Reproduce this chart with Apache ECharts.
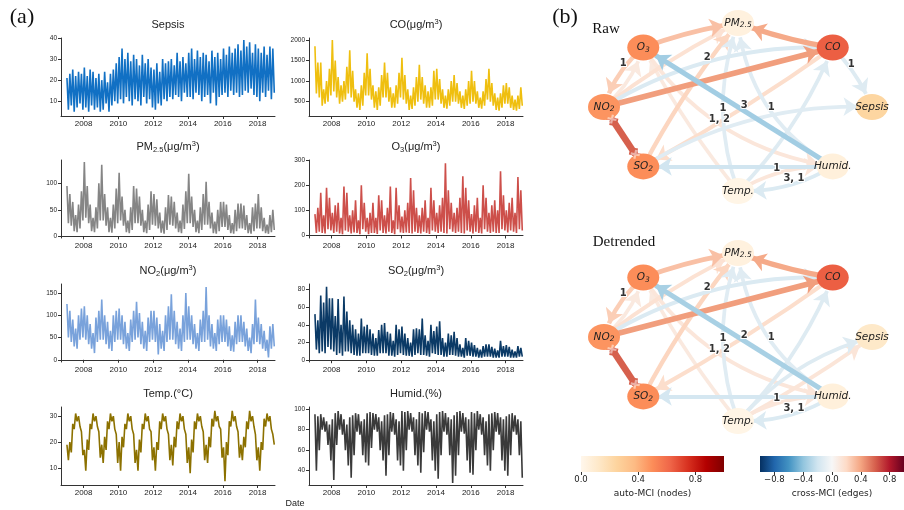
<!DOCTYPE html>
<html lang="en">
<head>
    <meta charset="UTF-8">
    <title>Sepsis and air quality</title>
    <script src="https://cdn.jsdelivr.net/npm/echarts@6/dist/echarts.min.js"></script>
</head>
<body style="margin: 0; background: #fff;">
<div id="container" style="width: 904px; height: 510px;"></div>
<script type="text/javascript">

    // monthly readings from Jan 2007, the month's high and low taken in turn
    const startYear = 2007;
    const perYear = 12;
    const yearTicks = [2008, 2010, 2012, 2014, 2016, 2018];

    const sepsis = [
        21, 6, 23, 8, 25, 5, 22, 7, 24, 9, 23, 6,
        26, 7, 22, 5, 25, 8, 24, 6, 21, 7, 23, 5,
        20, 6, 24, 9, 19, 5, 23, 8, 25, 10, 28, 9,
        31, 11, 35, 9, 30, 12, 33, 10, 29, 8, 32, 11,
        30, 10, 27, 8, 32, 12, 28, 9, 30, 11, 26, 7,
        25, 6, 28, 9, 24, 8, 30, 11, 28, 10, 29, 12,
        30, 11, 27, 13, 33, 12, 29, 10, 31, 14, 28, 12,
        33, 12, 35, 11, 30, 14, 34, 13, 31, 10, 33, 12,
        32, 13, 29, 9, 34, 14, 31, 8, 33, 12, 30, 13,
        35, 14, 32, 12, 36, 15, 33, 13, 35, 14, 37, 12,
        34, 13, 39, 15, 36, 14, 38, 16, 33, 13, 37, 12,
        35, 10, 33, 14, 36, 12, 32, 15, 36, 11, 35, 14
    ];
    const co = [
        1850, 700, 1450, 600, 1450, 400, 800, 450, 1000, 500, 1300, 650,
        2000, 750, 1500, 600, 1100, 450, 900, 500, 1000, 550, 1350, 700,
        1750, 600, 1250, 500, 800, 350, 700, 300, 900, 400, 1200, 650,
        1680, 650, 1300, 550, 900, 350, 750, 300, 850, 400, 1150, 600,
        1450, 600, 1200, 500, 850, 350, 700, 350, 900, 450, 1200, 600,
        1570, 550, 1150, 450, 800, 300, 650, 320, 850, 400, 1100, 500,
        1400, 550, 1100, 450, 900, 350, 750, 350, 850, 400, 1250, 550,
        1300, 550, 1050, 450, 800, 350, 650, 330, 800, 400, 1000, 500,
        1150, 500, 950, 450, 750, 350, 650, 320, 800, 400, 1000, 450,
        1250, 500, 1000, 450, 750, 350, 600, 330, 750, 400, 1050, 550,
        1300, 500, 950, 400, 700, 300, 600, 280, 700, 350, 900, 450,
        950, 450, 850, 350, 650, 300, 550, 280, 650, 320, 850, 400
    ];
    const pm25 = [
        95, 25, 80, 20, 65, 10, 40, 8, 60, 15, 85, 30,
        140, 35, 95, 25, 60, 10, 35, 8, 55, 15, 100, 30,
        135, 30, 80, 20, 55, 8, 35, 7, 60, 15, 90, 25,
        120, 30, 75, 20, 50, 8, 30, 6, 55, 12, 95, 25,
        90, 25, 75, 20, 50, 8, 30, 6, 60, 12, 85, 22,
        80, 20, 70, 15, 45, 7, 30, 5, 55, 12, 78, 22,
        75, 20, 65, 15, 45, 8, 30, 6, 60, 14, 85, 25,
        118, 25, 75, 18, 50, 8, 30, 6, 55, 12, 80, 22,
        103, 22, 65, 15, 45, 6, 28, 5, 50, 10, 65, 18,
        65, 18, 60, 12, 40, 6, 25, 5, 50, 10, 62, 15,
        62, 15, 58, 12, 40, 6, 25, 5, 55, 10, 62, 15,
        80, 15, 55, 10, 35, 6, 22, 5, 40, 8, 50, 12
    ];
    const o3 = [
        85, 10, 110, 15, 170, 10, 80, 8, 190, 25, 150, 20,
        90, 10, 120, 15, 130, 8, 70, 5, 195, 20, 170, 15,
        80, 8, 100, 12, 140, 10, 60, 5, 200, 25, 130, 15,
        70, 5, 90, 10, 130, 10, 70, 6, 160, 20, 140, 10,
        80, 8, 110, 15, 195, 10, 60, 5, 190, 25, 120, 12,
        75, 10, 100, 12, 130, 10, 228, 8, 180, 15, 110, 10,
        80, 8, 110, 15, 140, 10, 70, 6, 190, 20, 140, 15,
        90, 10, 120, 15, 150, 10, 287, 8, 180, 25, 130, 15,
        90, 10, 110, 15, 150, 10, 235, 8, 190, 20, 140, 15,
        85, 8, 120, 15, 150, 10, 70, 8, 200, 25, 150, 15,
        90, 10, 120, 15, 140, 10, 100, 10, 255, 25, 160, 20,
        100, 12, 130, 20, 150, 15, 90, 10, 232, 25, 180, 20
    ];
    const no2 = [
        125, 50, 110, 40, 90, 30, 70, 25, 100, 45, 115, 50,
        120, 45, 100, 35, 80, 25, 60, 15, 95, 40, 110, 45,
        135, 45, 100, 35, 85, 25, 65, 20, 100, 40, 110, 45,
        115, 45, 100, 35, 85, 25, 60, 20, 90, 40, 110, 45,
        130, 50, 105, 35, 85, 25, 65, 20, 95, 40, 110, 45,
        110, 40, 95, 12, 80, 25, 65, 20, 100, 40, 120, 45,
        147, 45, 110, 35, 85, 25, 70, 20, 100, 40, 150, 45,
        120, 45, 100, 35, 80, 25, 60, 20, 90, 40, 110, 40,
        163, 45, 100, 30, 80, 25, 60, 20, 90, 35, 100, 40,
        100, 40, 90, 30, 75, 20, 55, 18, 85, 35, 100, 40,
        100, 40, 85, 30, 70, 20, 50, 15, 80, 35, 135, 40,
        95, 35, 80, 25, 65, 20, 45, 5, 75, 25, 80, 30
    ];
    const so2 = [
        52, 12, 45, 8, 73, 10, 65, 8, 83, 15, 70, 12,
        70, 10, 50, 6, 69, 8, 40, 5, 72, 10, 55, 10,
        45, 8, 40, 6, 35, 5, 30, 5, 47, 8, 38, 8,
        40, 8, 35, 6, 30, 5, 25, 5, 34, 8, 40, 8,
        42, 8, 32, 5, 30, 5, 22, 4, 40, 6, 35, 8,
        38, 6, 30, 5, 25, 5, 20, 4, 35, 6, 36, 8,
        35, 6, 47, 6, 28, 5, 22, 4, 40, 8, 33, 7,
        38, 6, 44, 6, 25, 4, 20, 4, 30, 6, 28, 6,
        32, 5, 25, 4, 18, 4, 14, 3, 25, 5, 22, 5,
        20, 4, 17, 4, 14, 3, 12, 3, 16, 4, 18, 4,
        18, 4, 15, 3, 13, 3, 11, 3, 22, 4, 16, 4,
        17, 4, 15, 3, 12, 3, 10, 3, 16, 4, 14, 4
    ];
    const temp = [
        19, 13, 20, 16, 27, 25, 31, 28, 30, 26, 24, 15,
        17, 9, 21, 17, 27, 25, 31, 28, 30, 26, 24, 14,
        19, 12, 22, 17, 28, 25, 31, 28, 30, 25, 23, 12,
        20, 9, 22, 18, 27, 25, 31, 28, 30, 25, 23, 12,
        17, 9, 21, 16, 27, 25, 31, 28, 30, 25, 24, 13,
        18, 9, 20, 17, 28, 25, 31, 28, 30, 25, 23, 13,
        19, 11, 22, 18, 28, 25, 31, 28, 30, 25, 23, 12,
        18, 8, 21, 16, 28, 25, 31, 28, 30, 26, 24, 13,
        19, 12, 22, 18, 29, 26, 32, 28, 30, 26, 25, 14,
        18, 5, 20, 15, 28, 26, 32, 28, 30, 26, 24, 14,
        19, 13, 22, 18, 28, 25, 32, 28, 30, 26, 23, 13,
        18, 9, 20, 17, 29, 26, 31, 28, 30, 25, 23, 19
    ];
    const humid = [
        95, 40, 93, 60, 95, 80, 92, 78, 88, 65, 85, 50,
        90, 31, 96, 65, 98, 80, 95, 75, 90, 60, 85, 45,
        92, 33, 94, 55, 96, 78, 95, 75, 88, 55, 90, 48,
        96, 45, 97, 62, 96, 80, 95, 78, 92, 60, 88, 50,
        94, 35, 95, 55, 97, 78, 96, 75, 90, 50, 88, 45,
        98, 40, 97, 60, 98, 80, 96, 78, 92, 55, 90, 45,
        97, 38, 96, 58, 98, 80, 97, 78, 90, 50, 88, 40,
        95, 32, 97, 55, 98, 78, 96, 75, 92, 55, 90, 28,
        94, 35, 97, 55, 98, 78, 96, 76, 92, 50, 90, 38,
        97, 36, 96, 60, 98, 80, 95, 75, 92, 55, 88, 45,
        95, 40, 96, 60, 97, 78, 96, 75, 92, 50, 90, 40,
        93, 35, 95, 55, 96, 78, 94, 75, 90, 55, 88, 33
    ];

    // causal graphs: nodes in circle order, clockwise from the top
    const nodeNames = ['PM2.5', 'CO', 'Sepsis', 'Humid.', 'Temp.', 'SO2', 'NO2', 'O3'];
    const nodeLabels = ['PM{s|2.5}', 'CO', 'Sepsis', 'Humid.', 'Temp.', 'SO{s|2}', 'NO{s|2}', 'O{s|3}'];
    const autoRaw = [0.05, 0.64, 0.24, 0.06, 0.02, 0.5, 0.48, 0.5];
    const autoDetrended = [0.05, 0.64, 0.12, 0.06, 0.02, 0.5, 0.48, 0.5];

    // [source, target, cross-MCI, lags]; lag '0' is a contemporaneous link
    const linksRaw = [
        ['NO2', 'O3', 0.10, ''],
        ['Temp.', 'O3', 0.10, ''],
        ['O3', 'Humid.', 0.12, '1, 2'],
        ['NO2', 'PM2.5', 0.15, ''],
        ['SO2', 'PM2.5', 0.22, ''],
        ['CO', 'SO2', 0.18, ''],
        ['Temp.', 'PM2.5', -0.12, '1'],
        ['Humid.', 'PM2.5', -0.12, '1'],
        ['Temp.', 'CO', -0.13, ''],
        ['SO2', 'Sepsis', -0.12, ''],
        ['CO', 'Sepsis', -0.13, '1'],
        ['Temp.', 'Humid.', 0.12, '1'],
        ['Humid.', 'Temp.', -0.15, '3, 1'],
        ['Humid.', 'SO2', -0.2, ''],
        ['NO2', 'CO', -0.15, '2'],
        ['O3', 'NO2', 0.25, '1'],
        ['O3', 'PM2.5', 0.3, ''],
        ['CO', 'PM2.5', 0.38, ''],
        ['NO2', 'CO', 0.42, ''],
        ['Humid.', 'O3', -0.35, '3'],
        ['NO2', 'SO2', 0.6, '0']
    ];
    const linksDetrended = [
        ['NO2', 'O3', 0.10, ''],
        ['Temp.', 'O3', 0.10, ''],
        ['O3', 'Humid.', 0.12, '1, 2'],
        ['NO2', 'PM2.5', 0.15, ''],
        ['SO2', 'PM2.5', 0.22, ''],
        ['CO', 'SO2', 0.18, ''],
        ['Temp.', 'PM2.5', -0.12, '1'],
        ['Humid.', 'PM2.5', -0.12, '1'],
        ['Temp.', 'CO', -0.13, ''],
        ['Temp.', 'Sepsis', 0.13, ''],
        ['Temp.', 'Sepsis', -0.13, ''],
        ['Temp.', 'Humid.', 0.12, '1'],
        ['Humid.', 'Temp.', -0.15, '3, 1'],
        ['Humid.', 'SO2', -0.18, ''],
        ['NO2', 'CO', -0.15, '2'],
        ['O3', 'NO2', 0.25, '1'],
        ['O3', 'PM2.5', 0.3, ''],
        ['CO', 'PM2.5', 0.38, ''],
        ['NO2', 'CO', 0.42, ''],
        ['Humid.', 'O3', -0.33, '2'],
        ['NO2', 'SO2', 0.6, '0']
    ];
    // curvature of each link, same order as the lists above
    const bendRaw = [-0.15, 0.05, -0.22, 0.05, 0.05, 0.03, 0.18, 0.25, -0.1, 0.15, 0.1,
        0.15, 0.15, 0, 0.15, -0.15, 0.05, 0.05, 0, 0, 0];
    const bendDetrended = [-0.15, 0.05, -0.22, 0.05, 0.05, 0.03, 0.18, 0.25, -0.1, -0.03, 0.15,
        0.15, 0.15, 0, 0.15, -0.15, 0.05, 0.05, 0, 0, 0];

    const orRd = ['#fff7ec', '#fee8c8', '#fdd49e', '#fdbb84', '#fc8d59', '#ef6548', '#d7301f', '#b30000', '#7f0000'];
    const rdBuR = ['#053061', '#2166ac', '#4393c3', '#92c5de', '#d1e5f0', '#f7f7f7',
        '#fddbc7', '#f4a582', '#d6604d', '#b2182b', '#67001f'];
    const nodeTicks = [0, 0.4, 0.8];
    const edgeTicks = [-0.8, -0.4, 0, 0.4, 0.8];

    const sans = 'Liberation Sans, Arial, sans-serif';
    const mpl = 'DejaVu Sans, sans-serif';
    const serif = 'Liberation Serif, Times New Roman, serif';
    const cross = 'path://M0,2L2,0L5,3L8,0L10,2L7,5L10,8L8,10L5,7L2,10L0,8L3,5Z';

    const panels = [
        {title: 'Sepsis', data: sepsis, color: '#1170c4', min: 3, max: 40, ticks: [10, 20, 30, 40]},
        {title: 'CO(μg/m{sup|3})', data: co, color: '#efbf0f', min: 150, max: 2050, ticks: [500, 1000, 1500, 2000]},
        {title: 'PM{sub|2.5}(μg/m{sup|3})', data: pm25, color: '#858585', min: -3, max: 144, ticks: [0, 50, 100]},
        {title: 'O{sub|3}(μg/m{sup|3})', data: o3, color: '#cd4f4a', min: -10, max: 300, ticks: [0, 100, 200, 300]},
        {title: 'NO{sub|2}(μg/m{sup|3})', data: no2, color: '#79a2db', min: -5, max: 170, ticks: [0, 50, 100, 150]},
        {title: 'SO{sub|2}(μg/m{sup|3})', data: so2, color: '#0b3a66', min: -2, max: 86, ticks: [0, 20, 40, 60, 80]},
        {title: 'Temp.(°C)', data: temp, color: '#8c7100', min: 3.5, max: 33.5, ticks: [10, 20, 30]},
        {title: 'Humid.(%)', data: humid, color: '#3a3a3a', min: 26, max: 102, ticks: [40, 60, 80, 100]}
    ];

    let chart = echarts.init(document.getElementById('container'));
    let grids = [], xAxes = [], yAxes = [], series = [], graphics = [];

    const cols = [61, 309];
    const rows = [38, 160, 284, 407];
    const axisColor = '#333';

    panels.forEach(function (p, i) {
        let left = cols[i % 2], top = rows[Math.floor(i / 2)];
        grids.push({left: left, top: top, width: 214, height: 78});
        xAxes.push({
            gridIndex: i, type: 'value', min: 2006.7, max: 2019.0,
            axisLine: {lineStyle: {color: axisColor, width: 1}},
            axisTick: {customValues: yearTicks, length: 3, lineStyle: {color: axisColor}},
            axisLabel: {customValues: yearTicks, formatter: v => String(v), fontSize: 8, color: '#222', margin: 4, fontFamily: sans},
            splitLine: {show: false}
        });
        yAxes.push({
            gridIndex: i, type: 'value', min: p.min, max: p.max,
            axisLine: {show: true, lineStyle: {color: axisColor, width: 1}},
            axisTick: {show: true, customValues: p.ticks, length: 3, lineStyle: {color: axisColor}},
            axisLabel: {customValues: p.ticks, formatter: v => String(v), fontSize: 6.5, color: '#222', margin: 4, fontFamily: sans},
            splitLine: {show: false}
        });
        series.push({
            type: 'line', xAxisIndex: i, yAxisIndex: i,
            data: p.data.map((v, k) => [startYear + (k + 0.5) / perYear, v]),
            showSymbol: false, symbol: 'none', silent: true,
            lineStyle: {width: 1.6, color: p.color}, itemStyle: {color: p.color}
        });
        graphics.push({
            type: 'text', x: left + 107, y: top - 13,
            style: {
                text: p.title, fill: '#222', fontSize: 11, fontFamily: sans, align: 'center', verticalAlign: 'middle',
                rich: {
                    sub: {fontSize: 7.5, fontFamily: sans, padding: [6, 0, 0, 0]},
                    sup: {fontSize: 7.5, fontFamily: sans, padding: [0, 0, 6, 0]}
                }
            }
        });
    });

    function edgeColor(v) {
        return echarts.color.lerp((v + 1) / 2, rdBuR);
    }

    function graphSeries(gi, links, bends, auto) {
        let nodes = nodeNames.map(function (n, i) {
            let a = (90 - 45 * i) * Math.PI / 180;
            return {
                name: n, value: [Math.cos(a), Math.sin(a)],
                itemStyle: {color: echarts.color.lerp(auto[i], orRd)},
                label: {formatter: nodeLabels[i]}
            };
        });
        let edges = links.map(function (l, k) {
            let contemp = l[3] === '0';
            return {
                source: nodeNames.indexOf(l[0]), target: nodeNames.indexOf(l[1]),
                symbol: contemp ? [cross, cross] : ['none', 'arrow'],
                symbolSize: contemp ? 11 : 14,
                lineStyle: {color: edgeColor(l[2]), width: 3 + 6 * Math.abs(l[2]), curveness: bends[k], opacity: 1},
                label: {show: l[3] !== '' && !contemp, formatter: l[3]}
            };
        });
        let main = {
            type: 'graph', layout: 'none', coordinateSystem: 'cartesian2d',
            xAxisIndex: gi, yAxisIndex: gi, symbol: 'circle', symbolSize: [32, 26],
            data: nodes, links: edges, silent: true, z: 3,
            label: {
                show: true, position: 'inside', color: '#222', fontSize: 10.5, fontStyle: 'italic', fontFamily: mpl,
                rich: {s: {fontSize: 7.5, fontStyle: 'italic', fontFamily: mpl, color: '#222', padding: [5, 0, 0, 0]}}
            },
            edgeLabel: {
                position: 'middle', distance: 0, rotate: 0, fontSize: 10, fontWeight: 'bold', fontFamily: mpl,
                color: '#333', textBorderColor: '#fff', textBorderWidth: 2
            }
        };
        // white crosses drawn over the contemporaneous links
        let marks = {
            type: 'graph', layout: 'none', coordinateSystem: 'cartesian2d',
            xAxisIndex: gi, yAxisIndex: gi, symbol: 'circle', symbolSize: [32, 26],
            data: nodes.map(n => ({name: n.name, value: n.value})), silent: true, z: 4,
            itemStyle: {opacity: 0}, label: {show: false},
            links: links.filter(l => l[3] === '0').map(l => ({
                source: nodeNames.indexOf(l[0]), target: nodeNames.indexOf(l[1]),
                symbol: [cross, cross], symbolSize: 8,
                lineStyle: {color: '#fff', width: 0, curveness: 0}
            }))
        };
        return [main, marks];
    }

    [[23, linksRaw, bendRaw, autoRaw], [253, linksDetrended, bendDetrended, autoDetrended]].forEach(function (g) {
        let gi = grids.length;
        grids.push({left: 604, top: g[0], width: 268, height: 168});
        xAxes.push({gridIndex: gi, type: 'value', min: -1, max: 1, show: false});
        yAxes.push({gridIndex: gi, type: 'value', min: -1, max: 1, show: false});
        series.push.apply(series, graphSeries(gi, g[1], g[2], g[3]));
    });

    function colorbar(left, width, min, max, colors, ticks, name) {
        let gi = grids.length;
        grids.push({
            left: left, top: 456, width: width, height: 16, show: true, borderWidth: 0,
            backgroundColor: new echarts.graphic.LinearGradient(0, 0, 1, 0,
                colors.map((c, i) => ({offset: i / (colors.length - 1), color: c})))
        });
        xAxes.push({
            gridIndex: gi, type: 'value', min: min, max: max,
            axisLine: {show: false},
            axisTick: {show: true, customValues: ticks, length: 3, lineStyle: {color: '#333'}},
            axisLabel: {
                customValues: ticks, fontSize: 8.5, color: '#222', margin: 3, fontFamily: mpl,
                formatter: v => (v < 0 ? '\u2212' : '') + Math.abs(v).toFixed(1)
            },
            splitLine: {show: false},
            name: name, nameLocation: 'middle', nameGap: 17,
            nameTextStyle: {fontSize: 9, color: '#222', fontFamily: mpl}
        });
        yAxes.push({gridIndex: gi, type: 'value', min: 0, max: 1, show: false});
    }

    colorbar(581, 143, 0, 1, orRd, nodeTicks, 'auto-MCI (nodes)');
    colorbar(760, 144, -1, 1, rdBuR, edgeTicks, 'cross-MCI (edges)');

    graphics.push(
        {type: 'text', x: 22, y: 17, style: {text: '(a)', fill: '#111', fontSize: 22, fontFamily: serif, align: 'center', verticalAlign: 'middle'}},
        {type: 'text', x: 565, y: 17, style: {text: '(b)', fill: '#111', fontSize: 22, fontFamily: serif, align: 'center', verticalAlign: 'middle'}},
        {type: 'text', x: 606, y: 29, style: {text: 'Raw', fill: '#111', fontSize: 15, fontFamily: serif, align: 'center', verticalAlign: 'middle'}},
        {type: 'text', x: 624, y: 242, style: {text: 'Detrended', fill: '#111', fontSize: 15, fontFamily: serif, align: 'center', verticalAlign: 'middle'}},
        {type: 'text', x: 295, y: 504, style: {text: 'Date', fill: '#222', fontSize: 9, fontFamily: sans, align: 'center', verticalAlign: 'middle'}}
    );

    let option = {
        animation: false,
        backgroundColor: '#fff',
        grid: grids,
        xAxis: xAxes,
        yAxis: yAxes,
        series: series,
        graphic: graphics
    };
    chart.setOption(option, true);

</script>
</body>
</html>
